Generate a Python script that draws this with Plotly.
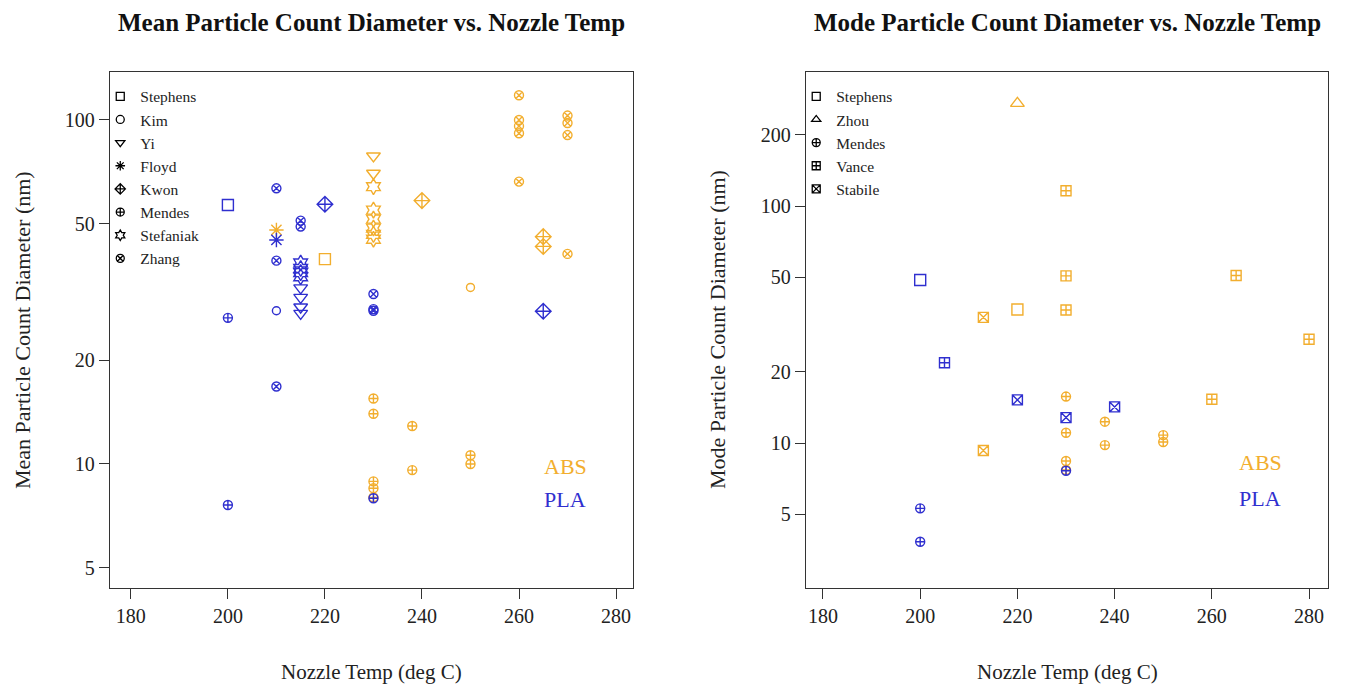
import plotly.graph_objects as go

# ---------------- data ----------------
# Left panel: Mean particle count diameter (nm) vs nozzle temperature (deg C)
mean_stephens_temp = [200, 220]
mean_stephens_diam = [56.6, 39.4]
mean_stephens_mat = ["PLA", "ABS"]

mean_kim_temp = [210, 250]
mean_kim_diam = [27.9, 32.6]
mean_kim_mat = ["PLA", "ABS"]

mean_yi_temp = [215, 215, 215, 215, 230, 230]
mean_yi_diam = [32.5, 30.5, 28.6, 27.4, 78.6, 70.0]
mean_yi_mat = ["PLA", "PLA", "PLA", "PLA", "ABS", "ABS"]

mean_floyd_temp = [210, 210]
mean_floyd_diam = [47.9, 44.8]
mean_floyd_mat = ["ABS", "PLA"]

mean_kwon_temp = [220, 240, 265, 265, 265]
mean_kwon_diam = [56.9, 58.3, 27.8, 45.8, 42.9]
mean_kwon_mat = ["PLA", "ABS", "PLA", "ABS", "ABS"]

mean_mendes_temp = [200, 200, 230, 230, 230, 230, 230, 230, 238, 238, 250, 250]
mean_mendes_diam = [26.6, 7.6, 15.5, 14.0, 8.9, 8.5, 8.0, 7.95, 12.9, 9.6, 10.6, 10.0]
mean_mendes_mat = ["PLA", "PLA", "ABS", "ABS", "ABS", "ABS", "ABS", "PLA",
                   "ABS", "ABS", "ABS", "ABS"]

mean_stefaniak_temp = [215, 215, 215, 215, 230, 230, 230, 230, 230, 230]
mean_stefaniak_diam = [38.4, 37.0, 36.0, 35.0, 64.0, 54.7, 51.5, 48.5, 46.5, 45.0]
mean_stefaniak_mat = ["PLA", "PLA", "PLA", "PLA", "ABS", "ABS", "ABS", "ABS", "ABS", "ABS"]

mean_zhang_temp = [210, 210, 210, 215, 215, 230, 230, 230,
                   260, 260, 260, 260, 260, 270, 270, 270, 270]
mean_zhang_diam = [63.3, 39.0, 16.8, 51.0, 49.0, 31.2, 28.2, 27.9,
                   118.0, 100.0, 96.0, 91.5, 66.2, 103.0, 98.0, 90.4, 40.8]
mean_zhang_mat = ["PLA", "PLA", "PLA", "PLA", "PLA", "PLA", "PLA", "PLA",
                  "ABS", "ABS", "ABS", "ABS", "ABS", "ABS", "ABS", "ABS", "ABS"]

# Right panel: Mode particle count diameter (nm) vs nozzle temperature (deg C)
mode_stephens_temp = [200, 220]
mode_stephens_diam = [48.7, 36.6]
mode_stephens_mat = ["PLA", "ABS"]

mode_zhou_temp = [220]
mode_zhou_diam = [271.0]
mode_zhou_mat = ["ABS"]

mode_mendes_temp = [230, 230, 230, 230, 238, 238, 250, 250, 230, 200, 200]
mode_mendes_diam = [15.7, 11.05, 8.4, 7.7, 12.3, 9.8, 10.8, 10.1, 7.64, 5.3, 3.83]
mode_mendes_mat = ["ABS", "ABS", "ABS", "ABS", "ABS", "ABS", "ABS", "ABS",
                   "PLA", "PLA", "PLA"]

mode_vance_temp = [230, 230, 230, 265, 280, 260, 205]
mode_vance_diam = [116.0, 50.7, 36.4, 50.9, 27.4, 15.3, 21.8]
mode_vance_mat = ["ABS", "ABS", "ABS", "ABS", "ABS", "ABS", "PLA"]

mode_stabile_temp = [213, 213, 220, 240, 230]
mode_stabile_diam = [33.9, 9.3, 15.2, 14.2, 12.8]
mode_stabile_mat = ["ABS", "ABS", "PLA", "PLA", "PLA"]

x_ticks = [180, 200, 220, 240, 260, 280]
mean_y_ticks = [5, 10, 20, 50, 100]
mode_y_ticks = [5, 10, 20, 50, 100, 200]

# ---------------- styling ----------------
ORANGE = "#F2AE2E"
BLUE = "#2F2FCF"
MAT_COLOR = {"ABS": ORANGE, "PLA": BLUE}
FONT = "Liberation Serif"

mean_series = [
    ("Stephens", mean_stephens_temp, mean_stephens_diam, mean_stephens_mat, "square-open", 11),
    ("Kim", mean_kim_temp, mean_kim_diam, mean_kim_mat, "circle-open", 8),
    ("Yi", mean_yi_temp, mean_yi_diam, mean_yi_mat, "triangle-down-open", 12),
    ("Floyd", mean_floyd_temp, mean_floyd_diam, mean_floyd_mat, "asterisk-open", 12),
    ("Kwon", mean_kwon_temp, mean_kwon_diam, mean_kwon_mat, "diamond-cross-open", 12),
    ("Mendes", mean_mendes_temp, mean_mendes_diam, mean_mendes_mat, "circle-cross-open", 9),
    ("Stefaniak", mean_stefaniak_temp, mean_stefaniak_diam, mean_stefaniak_mat, "hexagram-open", 12),
    ("Zhang", mean_zhang_temp, mean_zhang_diam, mean_zhang_mat, "circle-x-open", 9),
]
mode_series = [
    ("Stephens", mode_stephens_temp, mode_stephens_diam, mode_stephens_mat, "square-open", 11),
    ("Zhou", mode_zhou_temp, mode_zhou_diam, mode_zhou_mat, "triangle-up-open", 12),
    ("Mendes", mode_mendes_temp, mode_mendes_diam, mode_mendes_mat, "circle-cross-open", 9),
    ("Vance", mode_vance_temp, mode_vance_diam, mode_vance_mat, "square-cross-open", 10),
    ("Stabile", mode_stabile_temp, mode_stabile_diam, mode_stabile_mat, "square-x-open", 10),
]

fig = go.Figure()


def add_panel(series, xa, ya, legend_name):
    for name, temps, diams, mats, sym, size in series:
        # legend entry (black symbol)
        fig.add_trace(go.Scatter(
            x=[None], y=[None], mode="markers", name=name, xaxis=xa, yaxis=ya,
            legend=legend_name, showlegend=True, hoverinfo="skip",
            marker=dict(symbol=sym, size=8, color="black", line=dict(width=1.3, color="black")),
        ))
        for mat in ["ABS", "PLA"]:
            xs = [t for t, m in zip(temps, mats) if m == mat]
            ys = [d for d, m in zip(diams, mats) if m == mat]
            if not xs:
                continue
            fig.add_trace(go.Scatter(
                x=xs, y=ys, mode="markers", name=f"{name} {mat}", xaxis=xa, yaxis=ya,
                showlegend=False,
                marker=dict(symbol=sym, size=size, color=MAT_COLOR[mat],
                            line=dict(width=1.4, color=MAT_COLOR[mat])),
            ))


add_panel(mean_series, "x", "y", "legend")
add_panel(mode_series, "x2", "y2", "legend2")

axis_common = dict(
    showline=True, mirror=True, linecolor="#333333", linewidth=1.4,
    ticks="outside", ticklen=10, tickwidth=1.3, tickcolor="#333333",
    showgrid=False, zeroline=False, automargin=False,
    tickfont=dict(family=FONT, size=20, color="#222222"),
)

# page body has an 8px margin, so the figure is sized/offset to compensate
fig.update_layout(
    width=1337, height=676,
    margin=dict(l=102, r=17, t=64, b=96, autoexpand=False),
    paper_bgcolor="white", plot_bgcolor="white",
    font=dict(family=FONT, color="#222222"),
    xaxis=dict(domain=[0, 0.4294], range=[175.7, 283.5], tickvals=x_ticks,
               ticktext=[str(v) for v in x_ticks], **axis_common),
    yaxis=dict(type="log", range=[0.6395, 2.1395], tickvals=mean_y_ticks,
               ticktext=[str(v) for v in mean_y_ticks], **axis_common),
    xaxis2=dict(domain=[0.5714, 1.0], range=[176.5, 283.9], tickvals=x_ticks,
                ticktext=[str(v) for v in x_ticks], anchor="y2", **axis_common),
    yaxis2=dict(type="log", range=[0.3882, 2.5654], tickvals=mode_y_ticks,
                ticktext=[str(v) for v in mode_y_ticks], anchor="x2", **axis_common),
    legend=dict(x=-0.008, y=0.985, xanchor="left", yanchor="top",
                bgcolor="rgba(0,0,0,0)", borderwidth=0,
                font=dict(family=FONT, size=15.5, color="#222222"), itemwidth=30,
                tracegroupgap=0),
    legend2=dict(x=0.5634, y=0.985, xanchor="left", yanchor="top",
                 bgcolor="rgba(0,0,0,0)", borderwidth=0,
                 font=dict(family=FONT, size=15.5, color="#222222"), itemwidth=30,
                 tracegroupgap=0),
    showlegend=True,
)

# chart titles (anchored to the top edge of the figure so nothing is clipped)
for cx, text in [(371.5, "Mean Particle Count Diameter vs. Nozzle Temp"),
                 (1067, "Mode Particle Count Diameter vs. Nozzle Temp")]:
    fig.add_annotation(
        x=(cx - 110) / 1218, y=1, xref="paper", yref="paper", yshift=65,
        text=f"<b>{text}</b>", showarrow=False, xanchor="center", yanchor="top",
        font=dict(family=FONT, size=25, color="#111111"),
    )

# axis titles
for cx in [371.5, 1067]:
    fig.add_annotation(
        x=(cx - 110) / 1218, y=-0.1628, xref="paper", yref="paper",
        text="Nozzle Temp (deg C)", showarrow=False, xanchor="center", yanchor="middle",
        font=dict(family=FONT, size=21, color="#222222"),
    )
for px, text in [(22, "Mean Particle Count Diameter (nm)"),
                 (717, "Mode Particle Count Diameter (nm)")]:
    fig.add_annotation(
        x=(px - 110) / 1218, y=0.5, xref="paper", yref="paper", textangle=-90,
        text=text, showarrow=False, xanchor="center", yanchor="middle",
        font=dict(family=FONT, size=22, color="#222222"),
    )

# material labels
for xd, yd, abs_y, pla_y in [("x domain", "y domain", 0.236, 0.171),
                             ("x2 domain", "y2 domain", 0.244, 0.174)]:
    fig.add_annotation(x=0.87, y=abs_y, xref=xd, yref=yd, text="ABS", showarrow=False,
                       xanchor="center", yanchor="middle",
                       font=dict(family=FONT, size=22, color=ORANGE))
    fig.add_annotation(x=0.87, y=pla_y, xref=xd, yref=yd, text="PLA", showarrow=False,
                       xanchor="center", yanchor="middle",
                       font=dict(family=FONT, size=22, color=BLUE))

fig.write_html("out.html")
